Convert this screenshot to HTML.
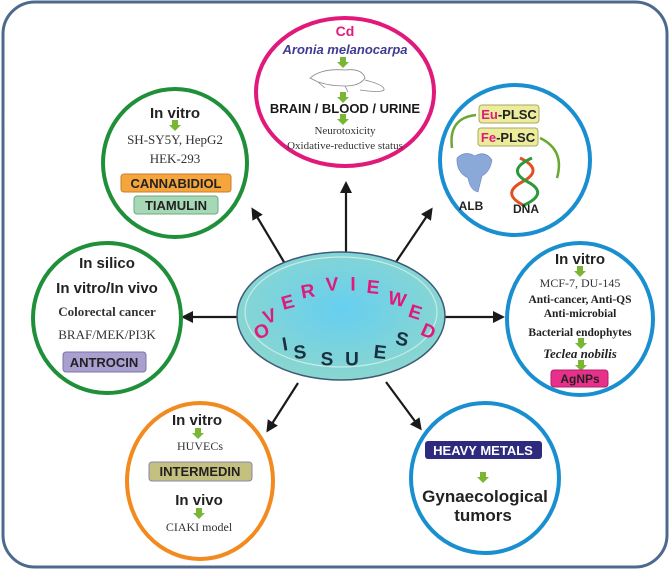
<!DOCTYPE html>
<html><head><meta charset="utf-8"><style>
html,body{margin:0;padding:0;background:#fff;}
svg{display:block;font-family:"Liberation Sans",sans-serif;}
.sf{font-family:"Liberation Serif",serif;}
</style></head><body>
<svg width="670" height="571" viewBox="0 0 670 571" xmlns="http://www.w3.org/2000/svg">
<defs>
<radialGradient id="cg" cx="50%" cy="45%" r="55%">
<stop offset="0" stop-color="#66cff0"/><stop offset="1" stop-color="#8ad6cf"/></radialGradient>
<marker id="ah" markerWidth="12" markerHeight="12" refX="9" refY="6" orient="auto" markerUnits="userSpaceOnUse"><path d="M0,0 L12,6 L0,12 z" fill="#1a1a1a"/></marker>
<g id="ga"><rect x="-3" y="-6" width="6" height="5" fill="#7ab534"/><path d="M-6,-1 L6,-1 L0,5 z" fill="#7ab534"/></g>
</defs>
<rect x="3" y="2" width="664" height="565" rx="32" fill="#fff" stroke="#4d6a8e" stroke-width="3"/>

<!-- arrows -->
<g stroke="#1a1a1a" stroke-width="2.2" marker-end="url(#ah)">
<line x1="346" y1="252" x2="346" y2="184"/>
<line x1="284" y1="262" x2="253" y2="210"/>
<line x1="396" y1="262" x2="431" y2="210"/>
<line x1="238" y1="317" x2="184" y2="317"/>
<line x1="445" y1="317" x2="502" y2="317"/>
<line x1="298" y1="383" x2="268" y2="430"/>
<line x1="386" y1="382" x2="420" y2="428"/>
</g>

<!-- center -->
<ellipse cx="341" cy="316" rx="104" ry="64" fill="url(#cg)" stroke="#3d5a78" stroke-width="1.5"/>
<ellipse cx="341" cy="312" rx="96" ry="55" fill="none" stroke="#d8f0e8" stroke-width="1.2" opacity="0.8"/>
<g font-weight="bold" font-size="19" fill="#e0197a" text-anchor="middle" dominant-baseline="central">
<text x="262" y="332" transform="rotate(-25 262 332)">O</text>
<text x="270" y="317" transform="rotate(-20 270 317)">V</text>
<text x="288" y="303" transform="rotate(-15 288 303)">E</text>
<text x="308" y="292" transform="rotate(-10 308 292)">R</text>
<text x="332" y="285" transform="rotate(-3 332 285)">V</text>
<text x="353" y="285">I</text>
<text x="373" y="288" transform="rotate(6 373 288)">E</text>
<text x="397" y="300" transform="rotate(12 397 300)">W</text>
<text x="415" y="313" transform="rotate(18 415 313)">E</text>
<text x="428" y="332" transform="rotate(24 428 332)">D</text>
</g>
<g font-weight="bold" font-size="19" fill="#1a3040" text-anchor="middle" dominant-baseline="central">
<text x="285" y="345" transform="rotate(-10 285 345)">I</text>
<text x="300" y="353" transform="rotate(-6 300 353)">S</text>
<text x="327" y="360">S</text>
<text x="352" y="360">U</text>
<text x="380" y="353" transform="rotate(6 380 353)">E</text>
<text x="402" y="340" transform="rotate(12 402 340)">S</text>
</g>

<!-- pink top -->
<ellipse cx="345" cy="92" rx="89" ry="74" fill="#fff" stroke="#e0197a" stroke-width="4"/>
<text x="345" y="36" text-anchor="middle" font-size="14" font-weight="bold" fill="#e0197a">Cd</text>
<text x="345" y="54" text-anchor="middle" font-size="13" font-weight="bold" font-style="italic" fill="#3e3c92">Aronia melanocarpa</text>
<use href="#ga" x="343" y="63"/>
<g fill="none" stroke="#888" stroke-width="0.8">
<path d="M310,78 Q322,68 345,70 Q362,68 365,78 Q360,86 345,86 Q330,86 318,82 Z"/>
<path d="M365,80 Q385,85 384,90 Q380,93 360,90"/>
<path d="M318,82 L325,88 M345,86 L348,92"/>
</g>
<use href="#ga" x="343" y="98"/>
<text x="345" y="113" text-anchor="middle" font-size="13" font-weight="bold" fill="#1a1a1a">BRAIN / BLOOD / URINE</text>
<use href="#ga" x="343" y="120"/>
<text x="345" y="134" text-anchor="middle" font-size="11" class="sf" fill="#333">Neurotoxicity</text>
<text x="345" y="149" text-anchor="middle" font-size="11" class="sf" fill="#333">Oxidative-reductive status</text>

<!-- green top-left -->
<ellipse cx="175" cy="163" rx="72" ry="74" fill="#fff" stroke="#1f8f3a" stroke-width="4"/>
<text x="175" y="118" text-anchor="middle" font-size="15" font-weight="bold" fill="#222">In vitro</text>
<use href="#ga" x="175" y="126"/>
<text x="175" y="144" text-anchor="middle" font-size="13" class="sf" fill="#333">SH-SY5Y, HepG2</text>
<text x="175" y="163" text-anchor="middle" font-size="13" class="sf" fill="#333">HEK-293</text>
<rect x="121" y="174" width="110" height="18" rx="3" fill="#f6a43c" stroke="#c7802a"/>
<text x="176" y="188" text-anchor="middle" font-size="13" font-weight="bold" fill="#222">CANNABIDIOL</text>
<rect x="134" y="196" width="84" height="18" rx="3" fill="#a6d8b6" stroke="#6aa882"/>
<text x="176" y="210" text-anchor="middle" font-size="13" font-weight="bold" fill="#222">TIAMULIN</text>

<!-- blue top-right -->
<circle cx="515" cy="160" r="75" fill="#fff" stroke="#1a8fd0" stroke-width="4"/>
<rect x="479" y="105" width="60" height="18" rx="3" fill="#ecec9c" stroke="#a8a860"/>
<text x="509" y="119" text-anchor="middle" font-size="13" font-weight="bold"><tspan fill="#e0197a">Eu</tspan><tspan fill="#222">-PLSC</tspan></text>
<rect x="478" y="128" width="60" height="18" rx="3" fill="#ecec9c" stroke="#a8a860"/>
<text x="508" y="142" text-anchor="middle" font-size="13" font-weight="bold"><tspan fill="#e0197a">Fe</tspan><tspan fill="#222">-PLSC</tspan></text>
<path d="M476,115 Q448,118 452,148" fill="none" stroke="#6aa832" stroke-width="2.5"/>
<path d="M540,138 Q565,150 557,178" fill="none" stroke="#6aa832" stroke-width="2.5"/>
<g fill="#8aa8d8" stroke="#6a88c0" stroke-width="0.6">
<path d="M457,158 Q465,150 475,156 Q485,150 492,160 Q490,172 482,176 L478,192 Q470,190 468,178 Q456,172 457,158 Z"/>
</g>
<g stroke-width="3" fill="none">
<path d="M520,158 Q545,170 522,182 Q500,194 525,206" stroke="#e05020"/>
<path d="M532,158 Q505,170 528,182 Q550,194 522,206" stroke="#2a9a3a"/>
</g>
<text x="471" y="210" text-anchor="middle" font-size="12" font-weight="bold" fill="#222">ALB</text>
<text x="526" y="213" text-anchor="middle" font-size="12" font-weight="bold" fill="#222">DNA</text>

<!-- left green -->
<ellipse cx="107" cy="318" rx="74" ry="75" fill="#fff" stroke="#1f8f3a" stroke-width="4"/>
<text x="107" y="268" text-anchor="middle" font-size="15" font-weight="bold" fill="#222">In silico</text>
<text x="107" y="293" text-anchor="middle" font-size="15" font-weight="bold" fill="#222">In vitro/In vivo</text>
<text x="107" y="316" text-anchor="middle" font-size="13" font-weight="bold" class="sf" fill="#333">Colorectal cancer</text>
<text x="107" y="339" text-anchor="middle" font-size="13" class="sf" fill="#333">BRAF/MEK/PI3K</text>
<rect x="63" y="352" width="83" height="20" rx="3" fill="#a9a0d0" stroke="#7c74a8"/>
<text x="104" y="367" text-anchor="middle" font-size="13" font-weight="bold" fill="#222">ANTROCIN</text>

<!-- right blue -->
<ellipse cx="580" cy="319" rx="73" ry="76" fill="#fff" stroke="#1a8fd0" stroke-width="4"/>
<text x="580" y="264" text-anchor="middle" font-size="15" font-weight="bold" fill="#222">In vitro</text>
<use href="#ga" x="580" y="272"/>
<text x="580" y="287" text-anchor="middle" font-size="12" class="sf" fill="#333">MCF-7, DU-145</text>
<text x="580" y="303" text-anchor="middle" font-size="11.5" font-weight="bold" class="sf" fill="#222">Anti-cancer, Anti-QS</text>
<text x="580" y="317" text-anchor="middle" font-size="11.5" font-weight="bold" class="sf" fill="#222">Anti-microbial</text>
<text x="580" y="336" text-anchor="middle" font-size="11.5" font-weight="bold" class="sf" fill="#222">Bacterial endophytes</text>
<use href="#ga" x="581" y="344"/>
<text x="580" y="358" text-anchor="middle" font-size="13" font-weight="bold" font-style="italic" class="sf" fill="#222">Teclea nobilis</text>
<use href="#ga" x="581" y="366"/>
<rect x="551" y="370" width="57" height="17" rx="3" fill="#e8308a" stroke="#b0206a"/>
<text x="580" y="383" text-anchor="middle" font-size="12" font-weight="bold" fill="#222">AgNPs</text>

<!-- orange -->
<ellipse cx="200" cy="481" rx="73" ry="78" fill="#fff" stroke="#f28a1e" stroke-width="4"/>
<text x="197" y="425" text-anchor="middle" font-size="15" font-weight="bold" fill="#222">In vitro</text>
<use href="#ga" x="198" y="434"/>
<text x="200" y="450" text-anchor="middle" font-size="12" class="sf" fill="#333">HUVECs</text>
<rect x="149" y="462" width="103" height="19" rx="3" fill="#c4c080" stroke="#8a86a8"/>
<text x="200" y="476" text-anchor="middle" font-size="13" font-weight="bold" fill="#222">INTERMEDIN</text>
<text x="199" y="505" text-anchor="middle" font-size="15" font-weight="bold" fill="#222">In vivo</text>
<use href="#ga" x="199" y="514"/>
<text x="199" y="531" text-anchor="middle" font-size="12" class="sf" fill="#333">CIAKI model</text>

<!-- bottom right -->
<ellipse cx="485" cy="478" rx="74" ry="75" fill="#fff" stroke="#1a8fd0" stroke-width="4"/>
<rect x="425" y="441" width="117" height="18" rx="3" fill="#2e2a7e"/>
<text x="483" y="455" text-anchor="middle" font-size="13" font-weight="bold" fill="#fff">HEAVY METALS</text>
<use href="#ga" x="483" y="478"/>
<text x="485" y="502" text-anchor="middle" font-size="17" font-weight="bold" fill="#222">Gynaecological</text>
<text x="483" y="521" text-anchor="middle" font-size="17" font-weight="bold" fill="#222">tumors</text>
</svg>
</body></html>
